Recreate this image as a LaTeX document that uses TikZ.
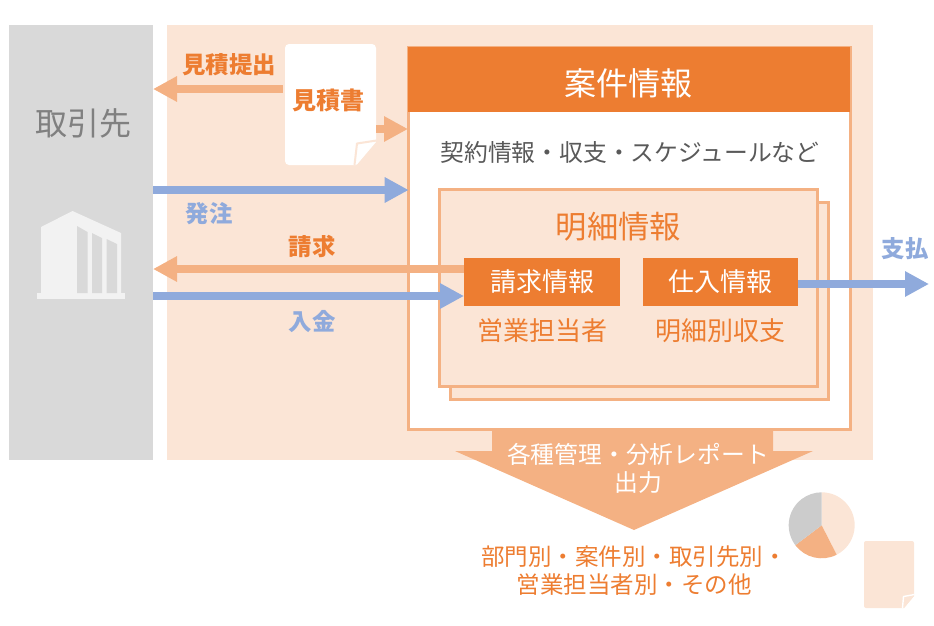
\documentclass[tikz,border=0pt]{standalone}
\usepackage{fontspec}
\setmainfont{Noto Sans CJK JP}
\usepackage{tikz}
\definecolor{orange}{HTML}{ED7D31}
\definecolor{pale}{HTML}{F4B183}
\definecolor{peach}{HTML}{FBE5D6}
\definecolor{blue}{HTML}{8FAADC}
\definecolor{panelgray}{HTML}{D9D9D9}
\definecolor{towergray}{HTML}{F2F2F2}
\usetikzlibrary{shapes,arrows,arrows.meta}
\tikzstyle{panel} = [rectangle, outer sep=0pt, inner sep=0pt]
\tikzstyle{frame} = [panel, draw=pale, line width=2.8pt]
\tikzstyle{block} = [panel, fill=orange, text=white, font=\fontsize{26}{30}\selectfont,
    minimum height=48pt]
\tikzstyle{tag} = [inner sep=0pt, text=orange, font=\fontsize{26}{30}\selectfont]
\tikzstyle{edgelabel} = [inner sep=0pt, font=\bfseries\fontsize{23.4}{27}\selectfont]
\tikzstyle{caption} = [inner sep=0pt, text=orange, align=center, font=\fontsize{23.5}{28}\selectfont]
\tikzstyle{line} = [draw, line width=8pt, -{Triangle[length=24pt,width=24pt]}]
\begin{document}
\begin{tikzpicture}[x=1pt, y=-1pt, node distance=49pt]
    \useasboundingbox (0,0) rectangle (934,625);
    % Place panels
    \node [panel, fill=panelgray, minimum width=144pt, minimum height=435pt] (client) at (81,242.5) {};
    \node [panel, fill=peach, minimum width=706pt, minimum height=435pt] (company) at (520,242.5) {};
    \node [inner sep=0pt, text=black!50, font=\fontsize{32}{36}\selectfont] (clientName) at (83,123) {取引先};
    % Building
    \fill [towergray] (37,293) rectangle (125,299);
    \fill [towergray] (41,293) -- (41,227) -- (72.5,211) -- (121,233) -- (121,293) -- cycle;
    \fill [panelgray] (77,226) -- (87.5,232) -- (87.5,293) -- (77,293) -- cycle;
    \fill [panelgray] (92,233) -- (102,238) -- (102,293) -- (92,293) -- cycle;
    \fill [panelgray] (106.5,239) -- (117,244) -- (117,293) -- (106.5,293) -- cycle;
    % Place case boxes
    \node [frame, fill=white, minimum width=441.8pt, minimum height=382.6pt] (case) at (629.6,238.3) {};
    \node [panel, fill=orange, minimum width=441.7pt, minimum height=64.4pt] (caseHead) at (629.15,79.5) {};
    \node [inner sep=0pt, text=white, font=\fontsize{32}{36}\selectfont] (caseName) at (628,83) {案件情報};
    \node [inner sep=0pt, text=black!65, font=\fontsize{23.8}{28}\selectfont] (caseNote) at (630,152.5) {契約情報・収支・スケジュールなど};
    \node [frame, fill=peach, minimum width=378pt, minimum height=197pt] (detailBack) at (639.5,301) {};
    \node [frame, fill=peach, minimum width=378.3pt, minimum height=197pt] (detail) at (628.65,288) {};
    \node [tag, font=\fontsize{31.3}{36}\selectfont] (detailName) at (618.5,226.5) {明細情報};
    \node [block, minimum width=156pt] (billing) at (542,282) {請求情報};
    \node [block, minimum width=155pt] (purchase) at (720.5,282) {仕入情報};
    \node [tag, below of=billing] (sales) {営業担当者};
    \node [tag, below of=purchase] (balance) {明細別収支};
    % Place quote sheet
    \fill [white, rounded corners=4pt] (285,44) -- (376,44) -- (376,100) [sharp corners] -- (376,141) -- (356,165) [rounded corners=4pt] -- (285,165) -- cycle;
    \fill [white] (376,142) -- (358.5,144.5) -- (356.5,165) -- cycle;
    \draw [peach, line width=2pt, line join=round] (376.5,140.5) -- (357,143.5) -- (354.5,165);
    \node [inner sep=0pt, minimum width=91pt, minimum height=121pt] (sheet) at (330.5,104.5) {};
    \node [edgelabel, text=orange, font=\bfseries\fontsize{24}{28}\selectfont] (sheetName) at (328,100.5) {見積書};
    % Place labels
    \node [edgelabel, text=orange] (quoteLabel) at (229,64.5) {見積提出};
    \node [edgelabel, text=blue] (orderLabel) at (209,214) {発注};
    \node [edgelabel, text=orange] (billLabel) at (312,246) {請求};
    \node [edgelabel, text=blue] (payinLabel) at (312,322) {入金};
    \node [edgelabel, text=blue] (payoutLabel) at (905,249) {支払};
    % Free ends
    \coordinate (quoteEnd) at (153,89);
    \coordinate (orderStart) at (153,190);
    \coordinate (billEnd) at (153,269);
    \coordinate (payinStart) at (153,296);
    \coordinate (payoutEnd) at (929,284);
    \coordinate (sheetEnd) at (408,129);
    % Draw edges
    \path [line, color=pale, shorten <=2pt] (sheet.west |- quoteEnd) -- (quoteEnd);
    \path [line, color=pale] (sheet.east |- sheetEnd) -- (sheetEnd);
    \path [line, color=blue] (orderStart) -- (case.west |- orderStart);
    \path [line, color=pale] (billing.west |- billEnd) -- (billEnd);
    \path [line, color=blue] (payinStart) -- (billing.west |- payinStart);
    \path [line, color=blue] (purchase.east |- payoutEnd) -- (payoutEnd);
    % Report arrow
    \fill [pale] (492,430) -- (773,430) -- (773,451) -- (813,451) -- (634,530) -- (455,451) -- (492,451) -- cycle;
    \node [caption, text=white, font=\fontsize{23.8}{28}\selectfont] (reports) at (638,468) {各種管理・分析レポート\\出力};
    \node [caption] (breakdown) at (634,571) {部門別・案件別・取引先別・\\営業担当者別・その他};
    % Pie
    \coordinate (pie) at (821.7,525.3);
    \fill [peach] (pie) -- ++(90:33pt) arc (90:-63:33pt) -- cycle;
    \fill [pale] (pie) -- ++(-63:33pt) arc (-63:-143:33pt) -- cycle;
    \fill [black!20] (pie) -- ++(217:33pt) arc (217:90:33pt) -- cycle;
    % Small sheet
    \fill [peach, rounded corners=2pt] (864,541) -- (914,541) -- (914,570) [sharp corners] -- (914,596) -- (904,608) [rounded corners=2pt] -- (864,608) -- cycle;
    \fill [peach] (914,596) -- (905,598) -- (904,608) -- cycle;
    \draw [white, line width=1.4pt] (914.5,594.5) -- (903.5,596.5) -- (902.5,608);
\end{tikzpicture}
\end{document}
